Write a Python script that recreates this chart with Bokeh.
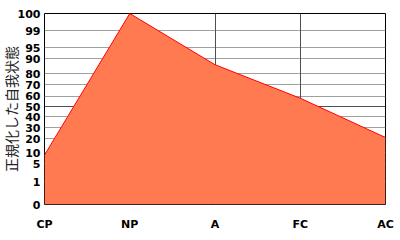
import numpy as np
from bokeh.plotting import figure
from bokeh.models import FixedTicker, Grid, Range1d
from bokeh.embed import file_html
from bokeh.resources import INLINE

# data
categories = ["CP", "NP", "A", "FC", "AC"]
scores = [9, 100, 86, 58, 21]
y_title = "正規化した自我状態"

# normalized (percentile-like) scale: tick values and their positions on the scale
tick_values = [0, 1, 5, 10, 20, 30, 40, 50, 60, 70, 80, 90, 95, 99, 100]
tick_positions = [0, 22.6, 40.8, 51.6, 66, 77, 88, 97.8, 108.6, 120, 131, 146, 157, 174, 191.3]

def to_scale(v):
    return float(np.interp(v, tick_values, tick_positions))

xs = list(range(len(categories)))
ys = [to_scale(v) for v in scores]

p = figure(width=400, height=240, output_backend="svg", toolbar_location=None,
           min_border_left=44, min_border_right=15, min_border_top=13, min_border_bottom=36,
           x_range=Range1d(0, len(categories) - 1), y_range=Range1d(tick_positions[0], tick_positions[-1]))
p.background_fill_color = "white"
p.border_fill_color = "white"
p.outline_line_color = "black"
p.outline_line_width = 1

p.varea(x=xs, y1=[tick_positions[0]] * len(xs), y2=ys, fill_color="#FF7A50", fill_alpha=1.0)
p.line(x=xs, y=ys, line_color="red", line_width=1)

# grids
p.xgrid.visible = False
p.ygrid.visible = False
pos50 = to_scale(50)
light = [t for t, v in zip(tick_positions, tick_values) if v not in (0, 50, 100)]
p.add_layout(Grid(dimension=1, ticker=FixedTicker(ticks=light), grid_line_color="#A0A0A0", level="underlay"))
p.add_layout(Grid(dimension=1, ticker=FixedTicker(ticks=[pos50]), grid_line_color="#505050", level="underlay"))
p.add_layout(Grid(dimension=0, ticker=FixedTicker(ticks=xs[1:-1]), grid_line_color="#505050"))

# axes
p.xaxis.ticker = FixedTicker(ticks=xs)
p.xaxis.major_label_overrides = {x: c for x, c in zip(xs, categories)}
p.yaxis.ticker = FixedTicker(ticks=tick_positions)
p.yaxis.major_label_overrides = {t: str(v) for t, v in zip(tick_positions, tick_values)}
for ax in (p.xaxis, p.yaxis):
    ax.axis_line_color = None
    ax.major_tick_line_color = None
    ax.minor_tick_line_color = None
    ax.major_tick_out = 0
    ax.major_tick_in = 0
    ax.minor_tick_out = 0
    ax.minor_tick_in = 0
    ax.major_label_text_font = "DejaVu Sans"
    ax.major_label_text_font_style = "bold"
    ax.major_label_text_font_size = "11px"
    ax.major_label_text_color = "black"
p.xaxis.major_label_standoff = 13
p.yaxis.major_label_standoff = 4

p.yaxis.axis_label = y_title
p.yaxis.axis_label_text_font = "DejaVu Sans, Noto Sans CJK JP"
p.yaxis.axis_label_text_font_style = "normal"
p.yaxis.axis_label_text_font_size = "14px"
p.yaxis.axis_label_text_line_height = 1.0
p.yaxis.axis_label_text_color = "#222222"
p.yaxis.axis_label_standoff = -5

open("out.html", "w").write(file_html(p, INLINE))
